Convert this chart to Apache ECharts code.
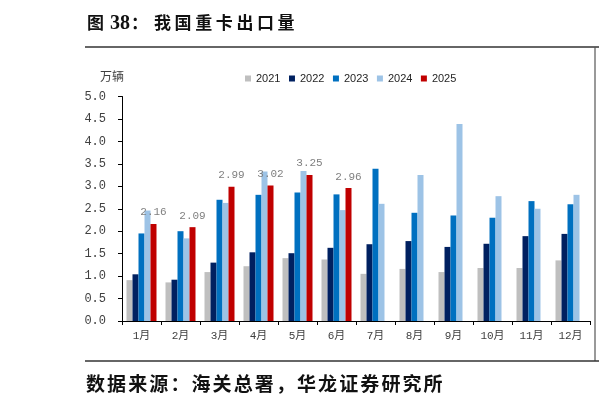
<!DOCTYPE html>
<html lang="zh-CN">

<head>
  <meta charset="UTF-8" />
  <title>我国重卡出口量</title>
  <script src="https://cdn.jsdelivr.net/npm/echarts@6/dist/echarts.min.js"></script>
  <style>
    html, body { margin: 0; padding: 0; background: #fff; }
    #main { width: 599px; height: 407px; }
  </style>
</head>

<body>
  <div id="main"></div>
</body>
<script>
  // 月份
  var months = ["1月", "2月", "3月", "4月", "5月", "6月", "7月", "8月", "9月", "10月", "11月", "12月"];
  var years = ["2021", "2022", "2023", "2024", "2025"];
  // 各年出口量（万辆）
  var data2021 = [0.91, 0.86, 1.09, 1.22, 1.40, 1.37, 1.05, 1.16, 1.09, 1.18, 1.18, 1.35];
  var data2022 = [1.04, 0.92, 1.30, 1.53, 1.51, 1.63, 1.71, 1.78, 1.65, 1.72, 1.89, 1.94];
  var data2023 = [1.95, 2.00, 2.70, 2.81, 2.86, 2.82, 3.39, 2.41, 2.35, 2.30, 2.67, 2.60];
  var data2024 = [2.46, 1.84, 2.63, 3.33, 3.34, 2.47, 2.61, 3.25, 4.39, 2.78, 2.50, 2.81];
  var data2025 = [2.16, 2.09, 2.99, 3.02, 3.25, 2.96, null, null, null, null, null, null];
  var yTicks = { min: 0, max: 5, interval: 0.5 };

  var colors = ["#BFBFBF", "#002060", "#0070C0", "#9DC3E6", "#C00000"];
  var seriesData = [data2021, data2022, data2023, data2024, data2025];

  // 逐字排版（模拟原图的字间距）
  function spacedText(str, x, y, step, font) {
    var children = [];
    for (var i = 0; i < str.length; i++) {
      children.push({
        type: "text",
        x: x + i * step,
        y: y,
        style: { text: str[i], fill: "#111", font: font }
      });
    }
    return { type: "group", children: children };
  }

  var myChart = echarts.init(document.getElementById("main"));

  var series = years.map(function (y, i) {
    var s = {
      name: y,
      type: "bar",
      barWidth: 6,
      barGap: "0%",
      data: seriesData[i],
      itemStyle: { color: colors[i] }
    };
    if (i === 4) {
      s.label = {
        show: true,
        position: "top",
        distance: 6,
        color: "#7F7F7F",
        fontFamily: "Liberation Mono",
        fontSize: 11,
        formatter: function (p) { return p.value.toFixed(2); }
      };
    }
    return s;
  });

  var titleFont = "bold 17px 'Liberation Serif', 'Noto Sans CJK SC'";
  var sourceFont = "bold 19px 'Noto Sans CJK SC'";

  var option = {
    animation: false,
    backgroundColor: "#fff",
    legend: {
      data: years,
      top: 68,
      left: 240,
      itemWidth: 6,
      itemHeight: 6,
      itemGap: 8.5,
      icon: "rect",
      textStyle: { color: "#262626", fontSize: 11, fontFamily: "Liberation Sans" }
    },
    grid: { left: 122, right: 9, top: 96.5, bottom: 86 },
    xAxis: {
      type: "category",
      data: months,
      axisLine: { show: true, lineStyle: { color: "#000", width: 1 } },
      axisTick: { show: true, length: 4, lineStyle: { color: "#000" } },
      axisLabel: { color: "#404040", fontSize: 11, margin: 10, fontFamily: "Liberation Mono, Noto Sans CJK SC" },
      splitLine: { show: false }
    },
    yAxis: {
      type: "value",
      min: yTicks.min,
      max: yTicks.max,
      interval: yTicks.interval,
      name: "万辆",
      nameLocation: "end",
      nameGap: 14,
      nameTextStyle: { color: "#404040", fontSize: 12, fontFamily: "Noto Sans CJK SC", align: "center", padding: [0, 0, 0, -20] },
      axisLine: { show: true, lineStyle: { color: "#000", width: 1 } },
      axisTick: { show: true, length: 4, lineStyle: { color: "#000" } },
      axisLabel: {
        color: "#404040", fontSize: 12, margin: 16, fontFamily: "Liberation Mono",
        formatter: function (v) { return v.toFixed(1); }
      },
      splitLine: { show: false }
    },
    graphic: [
      { type: "text", x: 87, y: 16, style: { text: "图", fill: "#111", font: titleFont } },
      { type: "text", x: 110, y: 14, style: { text: "38", fill: "#111", font: "bold 20px 'Liberation Serif'" } },
      { type: "text", x: 131, y: 16, style: { text: "：", fill: "#111", font: titleFont } },
      spacedText("我国重卡出口量", 154, 16, 20.6, titleFont),
      { type: "line", shape: { x1: 85, y1: 47, x2: 599, y2: 47 }, style: { stroke: "#333", lineWidth: 1.5 } },
      { type: "line", shape: { x1: 595, y1: 47, x2: 595, y2: 361 }, style: { stroke: "#555", lineWidth: 1.2 } },
      { type: "line", shape: { x1: 85, y1: 361, x2: 599, y2: 361 }, style: { stroke: "#333", lineWidth: 1.5 } },
      spacedText("数据来源：海关总署，华龙证券研究所", 86, 374, 21.1, sourceFont)
    ],
    series: series
  };

  myChart.setOption(option);
</script>

</html>
